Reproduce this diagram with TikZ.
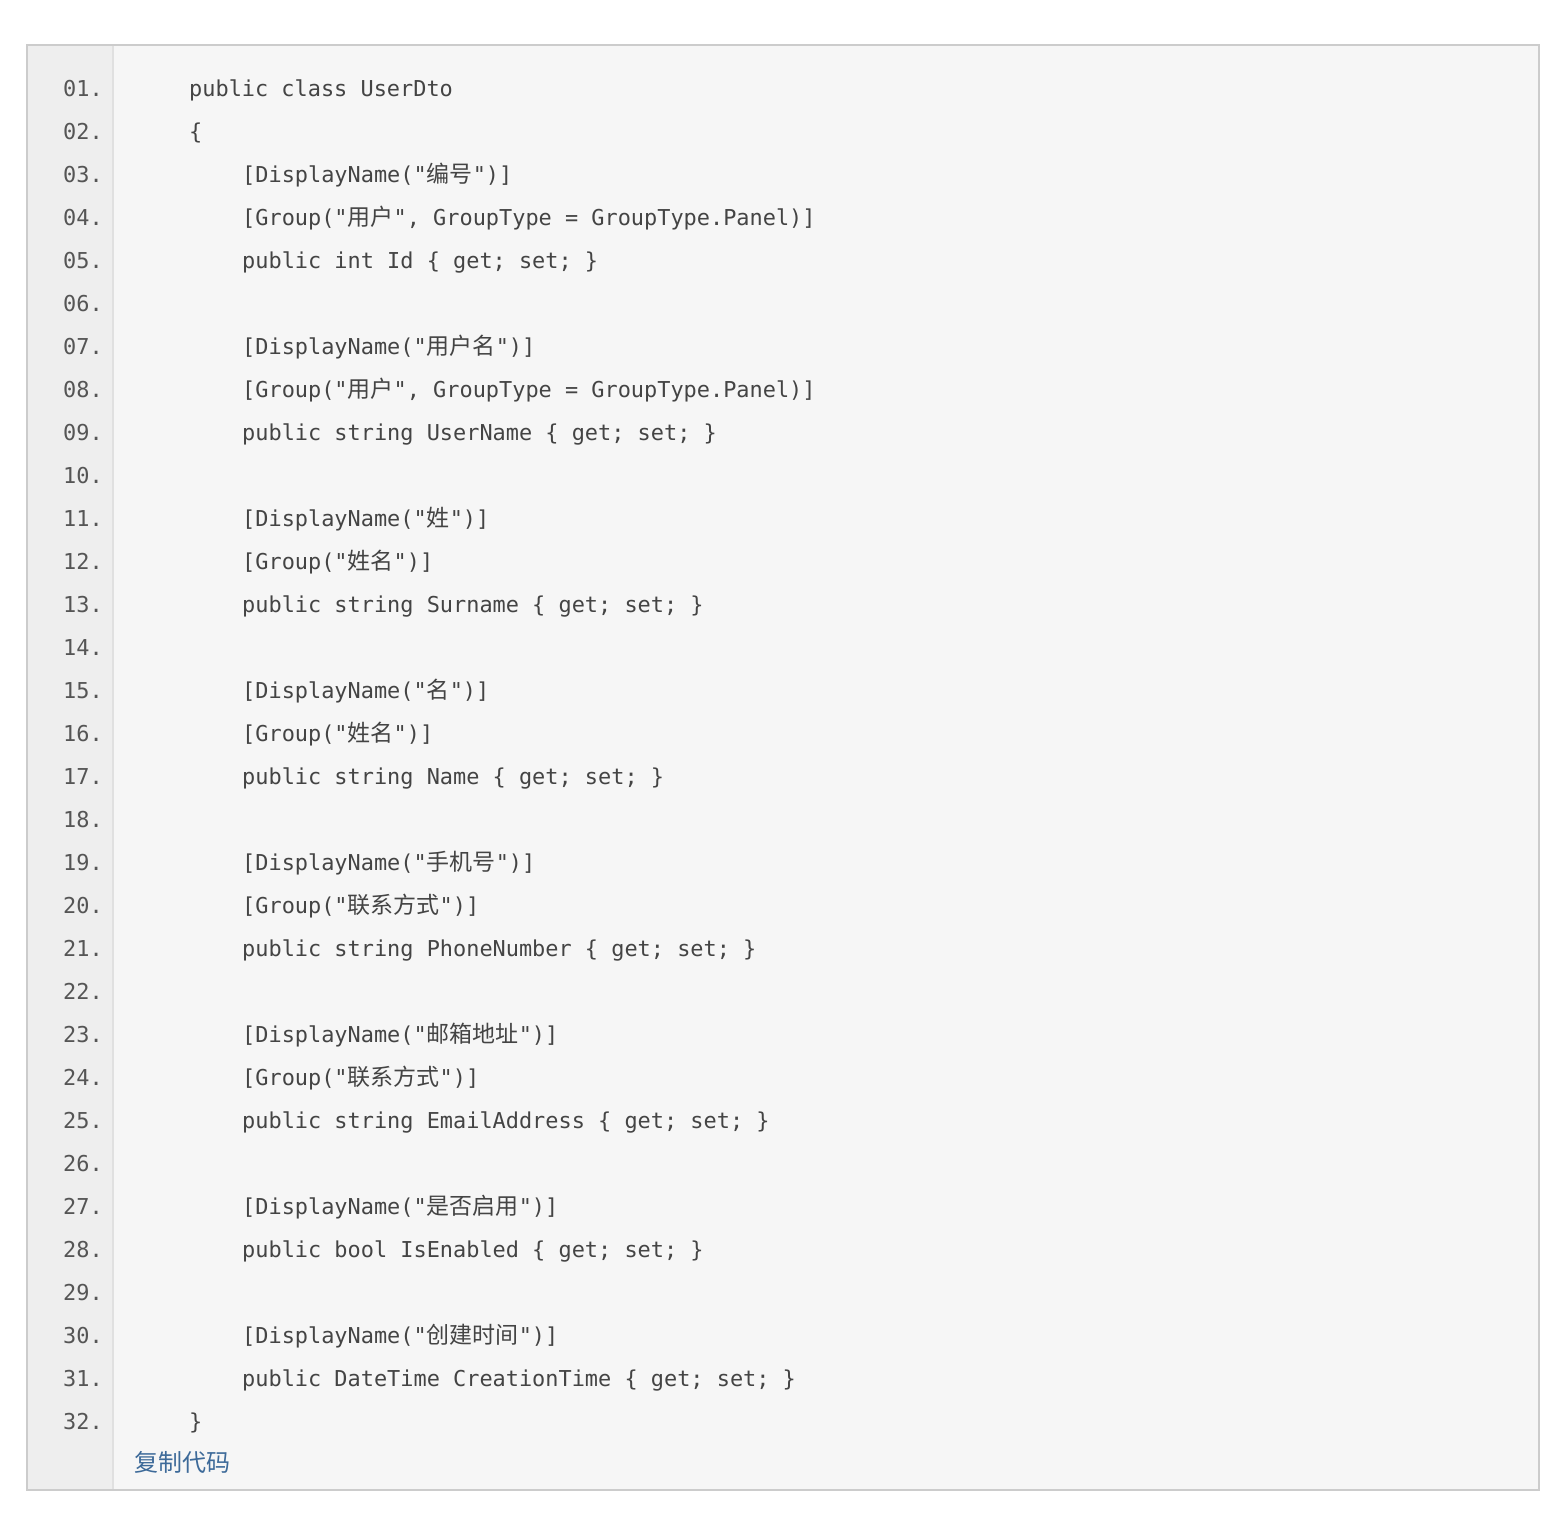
\documentclass[tikz,border=0pt]{standalone}
\usepackage{fontspec}
\setmonofont{DejaVu Sans Mono}
\newfontfamily\cjk{Noto Sans CJK SC}[Scale=1.05]
\newfontfamily\cjkui{Noto Sans CJK SC}
\definecolor{codegray}{HTML}{444444}
\definecolor{numgray}{HTML}{555555}
\definecolor{boxborder}{HTML}{CCCCCC}
\definecolor{codebg}{HTML}{F6F6F6}
\definecolor{gutterbg}{HTML}{EEEEEE}
\definecolor{gutterline}{HTML}{E0E0E0}
\definecolor{linkblue}{HTML}{3D6A99}
\newcommand{\C}[1]{{\cjk #1}}
\tikzset{
  codeline/.style={anchor=base west, inner sep=0pt, text=codegray, font=\fontsize{21.9}{26}\ttfamily\selectfont},
  numline/.style={anchor=base west, inner sep=0pt, text=numgray, font=\fontsize{21.9}{26}\ttfamily\selectfont},
  copylink/.style={anchor=base west, inner sep=0pt, text=linkblue, font=\fontsize{24}{28}\cjkui\selectfont}
}
\begin{document}
\begin{tikzpicture}[x=1pt,y=-1pt]
\useasboundingbox (0,0) rectangle (1565,1523);
\fill[white] (0,0) rectangle (1565,1523);
% box
\fill[codebg] (27,45) rectangle (1539,1490);
\fill[gutterbg] (27,45) rectangle (113,1490);
\draw[gutterline, line width=2pt] (113,46) -- (113,1489);
\draw[boxborder, line width=2pt] (27,45) rectangle (1539,1490);
% line numbers
\foreach \i in {1,...,32} {
  \pgfmathsetmacro{\yy}{96+(\i-1)*43}
  \node[numline] (n\i) at (63,\yy) {\ifnum\i<10 0\fi\i.};
}
% code
\def\A{189}
\def\B{242}
\node[codeline] (l1) at (\A,96) {public class UserDto};
\node[codeline] (l2) at (\A,139) {\{};
\node[codeline] (l3) at (\B,182) {[DisplayName("\C{编号}")]};
\node[codeline] (l4) at (\B,225) {[Group("\C{用户}", GroupType = GroupType.Panel)]};
\node[codeline] (l5) at (\B,268) {public int Id \{ get; set; \}};
\node[codeline] (l7) at (\B,354) {[DisplayName("\C{用户名}")]};
\node[codeline] (l8) at (\B,397) {[Group("\C{用户}", GroupType = GroupType.Panel)]};
\node[codeline] (l9) at (\B,440) {public string UserName \{ get; set; \}};
\node[codeline] (l11) at (\B,526) {[DisplayName("\C{姓}")]};
\node[codeline] (l12) at (\B,569) {[Group("\C{姓名}")]};
\node[codeline] (l13) at (\B,612) {public string Surname \{ get; set; \}};
\node[codeline] (l15) at (\B,698) {[DisplayName("\C{名}")]};
\node[codeline] (l16) at (\B,741) {[Group("\C{姓名}")]};
\node[codeline] (l17) at (\B,784) {public string Name \{ get; set; \}};
\node[codeline] (l19) at (\B,870) {[DisplayName("\C{手机号}")]};
\node[codeline] (l20) at (\B,913) {[Group("\C{联系方式}")]};
\node[codeline] (l21) at (\B,956) {public string PhoneNumber \{ get; set; \}};
\node[codeline] (l23) at (\B,1042) {[DisplayName("\C{邮箱地址}")]};
\node[codeline] (l24) at (\B,1085) {[Group("\C{联系方式}")]};
\node[codeline] (l25) at (\B,1128) {public string EmailAddress \{ get; set; \}};
\node[codeline] (l27) at (\B,1214) {[DisplayName("\C{是否启用}")]};
\node[codeline] (l28) at (\B,1257) {public bool IsEnabled \{ get; set; \}};
\node[codeline] (l30) at (\B,1343) {[DisplayName("\C{创建时间}")]};
\node[codeline] (l31) at (\B,1386) {public DateTime CreationTime \{ get; set; \}};
\node[codeline] (l32) at (\A,1429) {\}};
\node[copylink] (copy) at (134,1471) {复制代码};
\end{tikzpicture}
\end{document}
